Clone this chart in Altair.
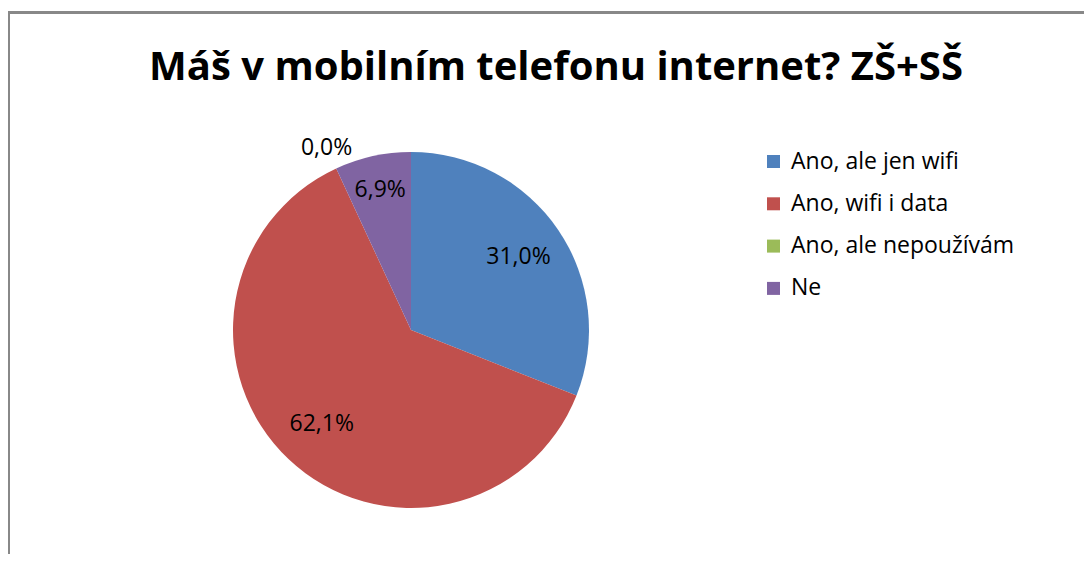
import math
import altair as alt
import pandas as pd

title_text = "Máš v mobilním telefonu internet? ZŠ+SŠ"
categories = ["Ano, ale jen wifi", "Ano, wifi i data", "Ano, ale nepoužívám", "Ne"]
values = [31.0, 62.1, 0.0, 6.9]
colors = ["#4F81BD", "#C0504D", "#9BBB59", "#8064A2"]

labels = [f"{v:.1f}".replace(".", ",") + "%" for v in values]
df = pd.DataFrame({
    "cat": categories,
    "value": values,
    "label": labels,
    "order": list(range(len(categories))),
})

FONT = "Open Sans"
CX, CY, R = 403, 322, 178
theta_scale = alt.Scale(domain=[0, 100], range=[0, 2 * math.pi])

base = alt.Chart(df)

pie = base.mark_arc(outerRadius=R).encode(
    x=alt.value(CX),
    y=alt.value(CY),
    theta=alt.Theta("value:Q", stack=True, scale=theta_scale),
    order=alt.Order("order:Q"),
    color=alt.Color(
        "cat:N",
        scale=alt.Scale(domain=categories, range=colors),
        sort=categories,
        legend=alt.Legend(
            title=None,
            orient="none",
            legendX=754,
            legendY=142,
            symbolType="square",
            symbolSize=169,
            symbolStrokeWidth=0,
            labelFont=FONT,
            labelFontSize=23,
            labelColor="#000000",
            labelOffset=6,
            rowPadding=18.3,
            padding=0,
            labelLimit=400,
        ),
    ),
)

text = base.transform_window(
    cum="sum(value)", sort=[alt.SortField("order", order="ascending")]
).transform_calculate(
    mid="datum.cum - datum.value / 2",
    lr="datum.value == 0 ? 201 : (datum.value < 10 ? 143 : 130)",
).mark_text(font=FONT, fontSize=23, color="#000000").encode(
    x=alt.value(CX),
    y=alt.value(CY),
    theta=alt.Theta("mid:Q", stack=None, scale=theta_scale),
    radius=alt.Radius("lr:Q", scale=None),
    text="label:N",
)

title = alt.Chart(pd.DataFrame({"t": [title_text]})).mark_text(
    font=FONT, fontSize=40, fontWeight="bold", color="#000000", baseline="alphabetic"
).encode(x=alt.value(548), y=alt.value(72), text="t:N")

frame_df = pd.DataFrame({"k": [0]})
left_line = alt.Chart(frame_df).mark_rule(color="#888888", strokeWidth=3).encode(
    x=alt.value(0.5), y=alt.value(4), y2=alt.value(546)
)
top_line = alt.Chart(frame_df).mark_rule(color="#888888", strokeWidth=3).encode(
    x=alt.value(0), x2=alt.value(1076), y=alt.value(4.5)
)

chart = alt.layer(left_line, top_line, pie, text, title).properties(
    width=1076, height=546, padding=0, autosize=alt.AutoSizeParams(type="none")
).resolve_scale(theta="independent").configure_view(stroke=None)

chart.save("out.html", embed_options={"renderer": "svg", "actions": False})
